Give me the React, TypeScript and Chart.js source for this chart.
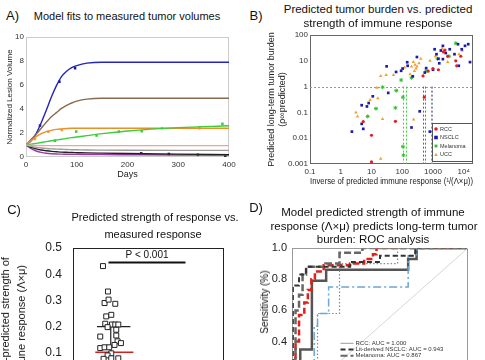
import React, { useEffect, useRef } from 'react';
import { Chart, registerables } from 'chart.js';

Chart.register(...registerables);

const FONT = "'Liberation Sans', Arial, Helvetica, sans-serif";
Chart.defaults.font.family = FONT;
Chart.defaults.color = '#222';

// ---------------- Panel A: model fits ----------------
const daysA = [0, 10, 20, 30, 40, 50, 60, 70, 80, 90, 100, 120, 150, 200, 300, 400];
const fitBlue = [1, 1.35, 1.95, 2.85, 3.9, 5.0, 5.95, 6.7, 7.15, 7.45, 7.62, 7.82, 7.9, 7.9, 7.9, 7.9];
const fitBrown = [1, 1.45, 1.9, 2.4, 2.9, 3.35, 3.7, 4.05, 4.3, 4.5, 4.65, 4.82, 4.9, 4.9, 4.9, 4.9];
const fitOrange = [1, 1.35, 1.7, 1.95, 2.12, 2.22, 2.3, 2.34, 2.37, 2.39, 2.4, 2.4, 2.4, 2.4, 2.4, 2.4];
const fitGreen = [1, 1.07, 1.14, 1.21, 1.28, 1.35, 1.42, 1.48, 1.55, 1.61, 1.67, 1.78, 1.95, 2.17, 2.45, 2.6];
const fitPink = [1, 0.97, 0.96, 0.95, 0.95, 0.95, 0.95, 0.95, 0.95, 0.95, 0.95, 0.95, 0.95, 0.95, 0.95, 0.95];
const fitGray = [1, 0.88, 0.8, 0.75, 0.71, 0.68, 0.66, 0.64, 0.62, 0.61, 0.6, 0.58, 0.57, 0.56, 0.55, 0.55];
const fitBlack = [1, 0.8, 0.68, 0.58, 0.52, 0.47, 0.44, 0.41, 0.39, 0.37, 0.36, 0.34, 0.32, 0.29, 0.24, 0.2];
const fitPurple = [1, 0.7, 0.5, 0.38, 0.31, 0.27, 0.25, 0.24, 0.23, 0.22, 0.22, 0.21, 0.2, 0.19, 0.17, 0.16];

const obsBlueDays = [27.6, 65.8, 96.7];
const obsBlueVals = [2.62, 6.27, 7.4];
const obsOrangeDays = [17.8, 44, 70.4, 267.7, 341.5];
const obsOrangeVals = [1.5, 2.1, 2.25, 2.4, 2.4];
const obsGreenDays = [57, 99, 139, 183, 228, 387];
const obsGreenVals = [1.35, 2.12, 1.79, 2.12, 2.15, 2.76];
const obsBlackDays = [227, 281.5, 338.7, 392.7];
const obsBlackVals = [0.3, 0.25, 0.18, 0.12];

// ---------------- Panel B: burden vs response ----------------
const rccX = [2450, 3000, 5500, 5900, 475, 700, 1500, 8000, 520, 60, 10, 10, 5.4, 1000, 2200];
const rccY = [26, 15, 10, 6.4, 2.6, 4, 4.5, 15, 0.39, 0.045, 0.013, 0.0012, 0.044, 5, 22];
const nsclcX = [2.3, 4.8, 4.8, 5.4, 7.1, 8.1, 11, 31, 35, 63, 92, 103, 150, 145, 300, 220, 540, 200, 370, 790, 1000, 1130, 1300, 1500, 2100, 2100, 1800, 6500, 8600, 11000, 14000, 16000, 6900, 5000, 2600, 1600, 3500, 600];
const nsclcY = [0.018, 0.19, 0.036, 0.023, 0.17, 0.23, 0.42, 6.1, 0.57, 3.7, 4.1, 5, 6.4, 8.8, 14, 2.5, 3.5, 0.026, 0.11, 0.018, 4.5, 28, 18, 12, 38, 11.6, 25, 44, 28, 38, 44, 8.9, 6.4, 18, 20, 8, 28, 5.2];
const melX = [23, 7.5, 14, 60, 64, 105, 105, 110, 92, 5500, 1400, 3300, 200, 600];
const melY = [0.95, 0.07, 0.14, 0.15, 0.7, 0.39, 0.0047, 0.0022, 1.8, 48, 12, 15, 2.2, 4];
const uccX = [3.1, 3.5, 9, 16, 20, 30, 52, 23, 20, 235, 230, 260, 300, 350, 280, 200, 250, 180, 400, 800, 1200, 3000, 7000, 9000, 2000, 120, 15];
const uccY = [0.1, 0.07, 0.3, 0.35, 2.6, 2.8, 2.8, 0.056, 0.0016, 0.053, 9, 7, 6, 8, 5, 6, 4, 3, 12, 10, 15, 9, 18, 25, 30, 5.5, 0.9];
const xTickValsB = [0.1, 1, 10, 100, 1000, 10000];
const xTickLabelsB = ['0.1', '1', '10', '100', '1000', '10⁴'];
const yTickValsB = [0.001, 0.01, 0.1, 1, 10, 100];
const yTickLabelsB = ['0.001', '0.01', '0.1', '1', '10', '100'];
const thresholdB = 1;
const cutoffsB = [105, 128, 475, 540, 830, 930];
const cutoffColorsB = ['#4c4', '#4c4', '#d33', '#a55', '#8890a8', '#8890a8'];

// ---------------- Panel C: strength vs measured response ----------------
const respVals = [0.431, 0.334, 0.29, 0.303, 0.287, 0.239, 0.245, 0.211, 0.208, 0.208, 0.208, 0.198, 0.188, 0.162, 0.166, 0.144, 0.137, 0.13, 0.118, 0.121, 0.121, 0.098, 0.09, 0.077, 0.079, 0.079];
const respJitter = [-0.103, -0.037, -0.082, -0.029, 0.06, -0.06, 0.007, -0.073, 0.016, 0.06, 0.1, -0.042, 0.073, -0.139, 0.073, 0.09, 0.135, 0.05, -0.139, -0.082, -0.02, 0.007, -0.042, -0.095, 0.007, 0.1];
const nonRespVals = [0.055, 0.05, 0.045, 0.04, 0.035, 0.03, 0.03, 0.02, 0.02, 0.01];
const nonRespJitter = [-0.05, 0.04, -0.08, 0.06, 0.0, -0.04, 0.07, -0.06, 0.03, 0.0];
const meanC = 0.2;
const meanSpanC = [0.318, 0.76];
const whiskerC = [0.2, 0.06];
const medianC = 0.102;
const medianSpanC = [0.295, 0.8];
const pBarSpanC = [0.47, 1.49];
const pBarLevelC = 0.445;
const pTextC = 'P < 0.001';

// ---------------- Panel D: ROC ----------------
const rocRccX = [0, 0, 1];
const rocRccY = [0, 1, 1];
const rocLitX = [0.005, 0.005, 0.04, 0.04, 0.08, 0.08, 0.33, 0.33, 0.5, 0.5, 0.7, 0.7, 1];
const rocLitY = [0, 0.76, 0.76, 0.83, 0.83, 0.88, 0.88, 0.91, 0.91, 0.95, 0.95, 1, 1];
const rocMelX = [0, 0.02, 0.02, 0.04, 0.04, 0.06, 0.06, 0.08, 0.08, 0.19, 0.19, 0.27, 0.27, 0.4, 0.4, 1];
const rocMelY = [0, 0.3, 0.6, 0.6, 0.7, 0.7, 0.83, 0.83, 0.88, 0.88, 0.9, 0.9, 0.97, 0.97, 1, 1];
const rocRedX = [0.02, 0.02, 0.04, 0.04, 0.07, 0.07, 0.09, 0.09, 0.11, 0.11, 0.13, 0.13, 0.18, 0.18, 0.33, 0.33, 0.41, 0.41, 0.46, 0.46, 0.48, 0.48, 1];
const rocRedY = [0, 0.4, 0.4, 0.57, 0.57, 0.65, 0.65, 0.73, 0.73, 0.8, 0.8, 0.85, 0.85, 0.89, 0.89, 0.9, 0.9, 0.93, 0.93, 0.96, 0.96, 1, 1];
const rocBlueX = [0.126, 0.126, 0.145, 0.145, 0.208, 0.208, 0.66, 0.66, 0.708, 0.708, 1];
const rocBlueY = [0, 0.5, 0.5, 0.58, 0.58, 0.75, 0.75, 0.95, 0.95, 1, 1];
const rocDotX = [0.145, 0.145, 0.27, 0.27, 0.6, 0.6, 1];
const rocDotY = [0, 0.58, 0.58, 0.9, 0.9, 1, 1];
const rocSolidX = [0.047, 0.047, 0.113, 0.113, 0.194, 0.194, 0.66, 0.66, 0.708, 0.708, 1];
const rocSolidY = [0, 0.35, 0.35, 0.79, 0.79, 0.86, 0.86, 0.93, 0.93, 1, 1];
const diagX = [0, 1];
const diagY = [0, 1];
const legendD = ['RCC: AUC = 1.000', 'Lit-derived NSCLC: AUC = 0.943', 'Melanoma: AUC = 0.867'];

// ---------------- helpers ----------------
const pts = (xs: number[], ys: number[]) => xs.map((x, i) => ({ x, y: ys[i] }));

const framePlugin = (color: string, lw = 1) => ({
  id: 'frame',
  beforeDatasetsDraw(chart: any) {
    const { ctx, chartArea } = chart;
    const l = Math.round(chartArea.left) + 0.5;
    const t = Math.round(chartArea.top) + 0.5;
    const r = Math.round(chartArea.right) - 0.5;
    const b = Math.round(chartArea.bottom) - 0.5;
    ctx.save();
    ctx.strokeStyle = color;
    ctx.lineWidth = lw;
    ctx.strokeRect(l, t, r - l, b - t);
    ctx.restore();
  },
});

const noGrid = { display: false, drawTicks: false };

function drawMarker(ctx: any, style: string, x: number, y: number, r: number, color: string) {
  ctx.save();
  ctx.fillStyle = color;
  ctx.strokeStyle = color;
  ctx.lineWidth = 1;
  ctx.beginPath();
  if (style === 'circle') {
    ctx.arc(x, y, r, 0, Math.PI * 2);
    ctx.fill();
  } else if (style === 'rect') {
    ctx.fillRect(x - r, y - r, 2 * r, 2 * r);
  } else if (style === 'triangle') {
    ctx.moveTo(x, y - r);
    ctx.lineTo(x + r, y + r * 0.8);
    ctx.lineTo(x - r, y + r * 0.8);
    ctx.closePath();
    ctx.fill();
  } else {
    const d = r * 0.7;
    ctx.moveTo(x - r, y); ctx.lineTo(x + r, y);
    ctx.moveTo(x, y - r); ctx.lineTo(x, y + r);
    ctx.moveTo(x - d, y - d); ctx.lineTo(x + d, y + d);
    ctx.moveTo(x - d, y + d); ctx.lineTo(x + d, y - d);
    ctx.stroke();
  }
  ctx.restore();
}

// ---------------- configs ----------------
function configA(): any {
  const curve = (vals: number[], color: string, w = 1.4) => ({
    data: pts(daysA, vals), showLine: true, borderColor: color, borderWidth: w,
    pointRadius: 0, cubicInterpolationMode: 'monotone', fill: false,
  });
  const obs = (xs: number[], ys: number[], color: string) => ({
    data: pts(xs, ys), showLine: false, pointStyle: 'rect', pointRadius: 1.8,
    backgroundColor: color, borderColor: color, borderWidth: 0,
  });
  return {
    type: 'scatter',
    data: {
      datasets: [
        curve(fitPink, '#f2a0a0'),
        curve(fitGray, '#9a9a9a'),
        curve(fitBlack, '#222222'),
        curve(fitPurple, '#9a3aa8'),
        curve(fitGreen, '#3ccc3c'),
        curve(fitOrange, '#e8902a'),
        curve(fitBrown, '#8a6a4e'),
        curve(fitBlue, '#2424b8'),
        obs(obsBlueDays, obsBlueVals, '#1a1a90'),
        obs(obsOrangeDays, obsOrangeVals, '#f0a040'),
        obs(obsGreenDays, obsGreenVals, '#3ccc3c'),
        obs(obsBlackDays, obsBlackVals, '#111111'),
      ],
    },
    options: {
      animation: false, responsive: false, devicePixelRatio: 1,
      layout: { padding: { top: 9, right: 13, left: 0, bottom: 0 } },
      plugins: { legend: { display: false }, tooltip: { enabled: false } },
      scales: {
        x: {
          type: 'linear', min: 0, max: 400,
          ticks: { stepSize: 100, font: { size: 8 }, color: '#333', padding: 3 },
          grid: noGrid, border: { display: false },
          title: { display: true, text: 'Days', font: { size: 9 }, color: '#222', padding: { top: 0, bottom: 2 } },
          afterFit: (s: any) => { s.height = 25; },
        },
        y: {
          min: 0, max: 10,
          ticks: { stepSize: 2, font: { size: 8 }, color: '#333', padding: 2 },
          grid: noGrid, border: { display: false },
          title: { display: true, text: 'Normalized Lesion Volume', font: { size: 8 }, color: '#222', padding: { top: 5, bottom: 0 } },
          afterFit: (s: any) => { s.width = 26; },
        },
      },
    },
    plugins: [framePlugin('#cccccc')],
  };
}

function configB(): any {
  const group = (label: string, xs: number[], ys: number[], style: string, color: string, r: number) => ({
    label, data: pts(xs, ys), pointStyle: style, pointRadius: r,
    backgroundColor: color, borderColor: color, borderWidth: style === 'star' ? 1 : 0,
  });
  const styles = ['circle', 'rect', 'star', 'triangle'];
  const colors = ['#e02020', '#1a1ab0', '#30c030', '#f0a030'];
  const refLines = {
    id: 'refLines',
    beforeDatasetsDraw(chart: any) {
      const { ctx, chartArea, scales } = chart;
      const y1 = scales.y.getPixelForValue(thresholdB);
      ctx.save();
      ctx.lineWidth = 1;
      ctx.setLineDash([2, 2]);
      ctx.strokeStyle = '#999';
      ctx.beginPath();
      ctx.moveTo(chartArea.left, Math.round(y1) + 0.5);
      ctx.lineTo(chartArea.right, Math.round(y1) + 0.5);
      ctx.stroke();
      cutoffsB.forEach((v, i) => {
        const x = Math.round(scales.x.getPixelForValue(v)) + 0.5;
        ctx.strokeStyle = cutoffColorsB[i];
        ctx.beginPath();
        ctx.moveTo(x, y1);
        ctx.lineTo(x, chartArea.bottom);
        ctx.stroke();
      });
      ctx.restore();
    },
  };
  const legendB = {
    id: 'legendB',
    afterDatasetsDraw(chart: any) {
      const { ctx, chartArea } = chart;
      const w = 40, h = 38;
      const left = chartArea.right - 1 - w;
      const top = chartArea.bottom - 3 - h;
      ctx.save();
      ctx.fillStyle = '#fff';
      ctx.fillRect(left, top, w, h);
      ctx.strokeStyle = '#555';
      ctx.lineWidth = 1;
      ctx.strokeRect(Math.round(left) + 0.5, Math.round(top) + 0.5, w, h);
      ctx.font = `5.5px ${FONT}`;
      ctx.textBaseline = 'middle';
      chart.data.datasets.forEach((ds: any, i: number) => {
        const y = top + 6 + i * 8.5;
        drawMarker(ctx, styles[i], left + 4, y, 1.8, colors[i]);
        ctx.fillStyle = '#333';
        ctx.fillText(ds.label, left + 8, y);
      });
      ctx.restore();
    },
  };
  return {
    type: 'scatter',
    data: {
      datasets: [
        group('RCC', rccX, rccY, styles[0], colors[0], 1.6),
        group('NSCLC', nsclcX, nsclcY, styles[1], colors[1], 1.9),
        group('Melanoma', melX, melY, styles[2], colors[2], 2),
        group('UCC', uccX, uccY, styles[3], colors[3], 2),
      ],
    },
    options: {
      animation: false, responsive: false, devicePixelRatio: 1,
      layout: { padding: { top: 7, right: 12, left: 0, bottom: 0 } },
      plugins: { legend: { display: false }, tooltip: { enabled: false } },
      scales: {
        x: {
          type: 'logarithmic', min: 0.1, max: 20000,
          afterBuildTicks: (ax: any) => { ax.ticks = xTickValsB.map((v) => ({ value: v })); },
          ticks: { font: { size: 8 }, color: '#333', padding: 3, autoSkip: false, maxRotation: 0, callback: (_v: any, i: number) => xTickLabelsB[i] },
          grid: noGrid, border: { display: false },
          title: { display: true, align: 'end', text: 'Inverse of predicted immune response (¹/(Λ×μ))', font: { size: 8.5 }, color: '#222', padding: { top: 0, bottom: 3 } },
          afterFit: (s: any) => { s.height = 26; },
        },
        y: {
          type: 'logarithmic', min: 0.001, max: 100,
          afterBuildTicks: (ax: any) => { ax.ticks = yTickValsB.map((v) => ({ value: v })); },
          ticks: { font: { size: 8 }, color: '#333', padding: 2, autoSkip: false, callback: (_v: any, i: number) => yTickLabelsB[i] },
          grid: noGrid, border: { display: false },
          title: { display: true, text: ['Predicted long-term tumor burden', '(ρ∞predicted)'], font: { size: 9 }, color: '#222', padding: { top: 24, bottom: 0 } },
          afterFit: (s: any) => { s.width = 68; },
        },
      },
    },
    plugins: [framePlugin('#666666'), refLines, legendB],
  };
}

function configC(): any {
  const line = (xs: number[], ys: number[], color: string, w: number) => ({
    data: pts(xs, ys), showLine: true, borderColor: color, borderWidth: w, pointRadius: 0,
  });
  const pText = {
    id: 'pText',
    afterDatasetsDraw(chart: any) {
      const { ctx, scales } = chart;
      const x = scales.x.getPixelForValue((pBarSpanC[0] + pBarSpanC[1]) / 2);
      const y = scales.y.getPixelForValue(pBarLevelC);
      ctx.save();
      ctx.font = `10px ${FONT}`;
      ctx.fillStyle = '#111';
      ctx.textAlign = 'center';
      ctx.textBaseline = 'bottom';
      ctx.fillText(pTextC, x, y - 2);
      ctx.restore();
    },
  };
  return {
    type: 'scatter',
    data: {
      datasets: [
        {
          data: respVals.map((v, i) => ({ x: 0.5 + respJitter[i], y: v })),
          pointStyle: 'rect', pointRadius: 3.5, backgroundColor: '#fff', borderColor: '#222', borderWidth: 1,
        },
        {
          data: nonRespVals.map((v, i) => ({ x: 1.5 + nonRespJitter[i], y: v })),
          pointStyle: 'rect', pointRadius: 3.5, backgroundColor: '#fff', borderColor: '#222', borderWidth: 1,
        },
        line(meanSpanC, [meanC, meanC], '#222', 1.2),
        line([0.5, 0.5], whiskerC, '#222', 1.2),
        line(medianSpanC, [medianC, medianC], '#d02020', 1.6),
        line(pBarSpanC, [pBarLevelC, pBarLevelC], '#111', 2),
      ],
    },
    options: {
      animation: false, responsive: false, devicePixelRatio: 1,
      layout: { padding: { top: 68, right: 18, left: 0, bottom: 21 } },
      plugins: { legend: { display: false }, tooltip: { enabled: false } },
      scales: {
        x: { type: 'linear', min: 0, max: 2, display: false },
        y: {
          min: 0, max: 0.5,
          ticks: { stepSize: 0.1, font: { size: 12 }, color: '#222', padding: 11 },
          grid: noGrid, border: { display: false },
          afterFit: (s: any) => { s.width = 73; },
        },
      },
    },
    plugins: [framePlugin('#222222'), pText],
  };
}

function configD(): any {
  const roc = (label: string, xs: number[], ys: number[], color: string, w: number, dash: number[]) => ({
    label, data: pts(xs, ys), showLine: true, borderColor: color, borderWidth: w, borderDash: dash, pointRadius: 0,
  });
  const legend = {
    id: 'legendD',
    afterDatasetsDraw(chart: any) {
      const { ctx, chartArea } = chart;
      ctx.save();
      ctx.font = `6px ${FONT}`;
      ctx.textBaseline = 'middle';
      legendD.forEach((txt, i) => {
        const ds = chart.data.datasets[i + 1];
        const y = chartArea.top + 95.3 + i * 6.25;
        ctx.strokeStyle = ds.borderColor;
        ctx.lineWidth = Math.min(ds.borderWidth, 2);
        ctx.setLineDash(ds.borderDash);
        ctx.beginPath();
        ctx.moveTo(chartArea.left + 48.5, y);
        ctx.lineTo(chartArea.left + 61.5, y);
        ctx.stroke();
        ctx.setLineDash([]);
        ctx.fillStyle = '#333';
        ctx.fillText(txt, chartArea.left + 63.5, y);
      });
      ctx.restore();
    },
  };
  return {
    type: 'scatter',
    data: {
      datasets: [
        roc('diag', diagX, diagY, '#d6d6d6', 1, []),
        roc('RCC', rocRccX, rocRccY, '#9a9a9a', 1, []),
        roc('Lit-derived NSCLC', rocLitX, rocLitY, '#333333', 2, [5, 3]),
        roc('Melanoma', rocMelX, rocMelY, '#666666', 2.5, [7, 3]),
        roc('red', rocRedX, rocRedY, '#e0201a', 2.5, [6, 3]),
        roc('blue', rocBlueX, rocBlueY, '#6aa6d6', 1.5, [8, 3, 2, 3]),
        roc('dotted', rocDotX, rocDotY, '#888888', 1.2, [1.5, 2]),
        roc('solid', rocSolidX, rocSolidY, '#555555', 2.5, []),
      ],
    },
    options: {
      animation: false, responsive: false, devicePixelRatio: 1,
      layout: { padding: { top: 68, right: 17, left: 0, bottom: 26 } },
      plugins: { legend: { display: false }, tooltip: { enabled: false } },
      scales: {
        x: { type: 'linear', min: 0, max: 1, display: false },
        y: {
          min: 0, max: 1,
          ticks: { stepSize: 0.1, font: { size: 11 }, color: '#222', padding: 5 },
          grid: noGrid, border: { display: false },
          afterFit: (s: any) => { s.width = 50; },
        },
      },
    },
    plugins: [framePlugin('#9a9a9a'), legend],
  };
}

// ---------------- components ----------------
function ChartCanvas({ left, top, width, height, make }: any) {
  const ref = useRef<HTMLCanvasElement>(null);
  useEffect(() => {
    const chart = new Chart(ref.current as HTMLCanvasElement, make());
    return () => chart.destroy();
  }, []);
  return (
    <canvas ref={ref} width={width} height={height}
      style={{ position: 'absolute', left, top, width, height }} />
  );
}

function Txt({ x, y, size, children, align = 'center' }: any) {
  return (
    <div style={{
      position: 'absolute', left: x, top: y - size / 2, fontSize: size, lineHeight: size + 'px',
      whiteSpace: 'nowrap', color: '#111', transform: align === 'center' ? 'translateX(-50%)' : undefined,
    }}>{children}</div>
  );
}

function VTxt({ x, y, size, lh, lines }: any) {
  return (
    <div style={{
      position: 'absolute', left: x, top: y, transform: 'translate(-50%,-50%) rotate(-90deg)',
      fontSize: size, lineHeight: lh + 'px', whiteSpace: 'nowrap', textAlign: 'center', color: '#111',
    }}>
      {lines.map((l: string) => <div key={l}>{l}</div>)}
    </div>
  );
}

export default function App() {
  return (
    <div style={{
      position: 'fixed', left: 0, top: 0, width: 485, height: 360, overflow: 'hidden',
      background: '#fff', fontFamily: FONT,
    }}>
      <ChartCanvas left={0} top={28} width={242} height={154} make={configA} />
      <ChartCanvas left={242} top={28} width={243} height={162} make={configB} />
      <ChartCanvas left={0} top={180} width={242} height={220} make={configC} />
      <ChartCanvas left={242} top={180} width={243} height={250} make={configD} />

      <Txt x={12.5} y={15} size={13}>A)</Txt>
      <Txt x={127} y={16} size={11}>Model fits to measured tumor volumes</Txt>

      <Txt x={256} y={15} size={13}>B)</Txt>
      <Txt x={378} y={10} size={11.5}>Predicted tumor burden vs. predicted</Txt>
      <Txt x={378} y={23.3} size={11.5}>strength of immune response</Txt>

      <Txt x={14} y={209} size={13}>C)</Txt>
      <Txt x={155} y={217} size={11}>Predicted strength of response vs.</Txt>
      <Txt x={153} y={234} size={11}>measured response</Txt>
      <VTxt x={13} y={324} size={11} lh={16} lines={['Model-predicted strength of', 'immune response (Λ×μ)']} />

      <Txt x={256} y={207} size={13}>D)</Txt>
      <Txt x={373} y={212.3} size={11.5}>Model predicted strength of immune</Txt>
      <Txt x={374} y={226.7} size={11.5}>response (Λ×μ) predicts long-term tumor</Txt>
      <Txt x={373} y={240} size={11.5}>burden: ROC analysis</Txt>
      <VTxt x={265} y={302} size={10} lh={12} lines={['Sensitivity (%)']} />
    </div>
  );
}
